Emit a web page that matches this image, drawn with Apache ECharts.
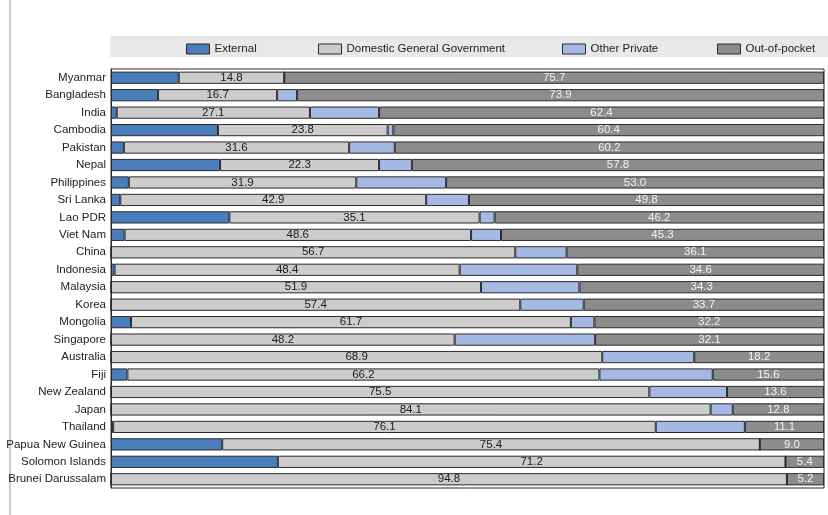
<!DOCTYPE html>
<html><head><meta charset="utf-8">
<script src="https://cdn.jsdelivr.net/npm/echarts@6/dist/echarts.min.js"></script>
<style>html,body{margin:0;padding:0;background:#fff}#c{width:828px;height:515px}</style>
</head><body><div id="c"></div>
<script>
const categories = ["Myanmar","Bangladesh","India","Cambodia","Pakistan","Nepal","Philippines","Sri Lanka","Lao PDR","Viet Nam","China","Indonesia","Malaysia","Korea","Mongolia","Singapore","Australia","Fiji","New Zealand","Japan","Thailand","Papua New Guinea","Solomon Islands","Brunei Darussalam"];
const seriesNames = ['External','Domestic General Government','Other Private','Out-of-pocket'];
const external = [9.5,6.6,0.8,15.0,1.8,15.3,2.5,1.3,16.6,1.9,0,0.5,0,0,2.8,0,0,2.3,0,0,0.3,15.6,23.4,0];
const domestic = [14.8,16.7,27.1,23.8,31.6,22.3,31.9,42.9,35.1,48.6,56.7,48.4,51.9,57.4,61.7,48.2,68.9,66.2,75.5,84.1,76.1,75.4,71.2,94.8];
const otherPrivate = [0,2.8,9.7,0.8,6.4,4.6,12.6,6.0,2.1,4.2,7.2,16.5,13.8,8.9,3.3,19.7,12.9,15.9,10.9,3.1,12.5,0,0,0];
const outOfPocket = [75.7,73.9,62.4,60.4,60.2,57.8,53.0,49.8,46.2,45.3,36.1,34.6,34.3,33.7,32.2,32.1,18.2,15.6,13.6,12.8,11.1,9.0,5.4,5.2];

const FONT = '"Liberation Sans", Arial, sans-serif';
const chart = echarts.init(document.getElementById('c'));
const border = {borderColor:'#2a2a2a', borderWidth:1};
function mk(name, data, color, label){
  return {name, type:'bar', stack:'t', data, barWidth:'70%',
    itemStyle:Object.assign({color}, border),
    label: label ? Object.assign({show:true, position:'inside', fontFamily:FONT, fontSize:11.5,
      formatter:p=>p.value.toFixed(1)}, label) : {show:false},
    emphasis:{disabled:true}, animation:false};
}
const legendLefts = [181, 313, 557, 712];
chart.setOption({
  animation:false,
  textStyle:{fontFamily:FONT},
  graphic:[
    {type:'rect', shape:{x:110,y:36,width:718,height:21}, style:{fill:'#e8e8e8'}, z:-1},
    {type:'line', shape:{x1:10,y1:0,x2:10,y2:515}, style:{stroke:'#999',lineWidth:1}}
  ],
  legend: seriesNames.map((n,i)=>({left:legendLefts[i], top:38, itemWidth:23, itemHeight:10, icon:'rect',
    textStyle:{fontFamily:FONT, fontSize:11.5, color:'#222'},
    itemStyle:{borderColor:'#2a2a2a', borderWidth:1},
    data:[n]})),
  grid:{left:111, right:4, top:69, bottom:27, show:true, borderColor:'#2a2a2a', borderWidth:1, backgroundColor:'#fff'},
  xAxis:{type:'value', min:0, max:100, show:false},
  yAxis:{type:'category', data:categories, inverse:true,
    axisLine:{lineStyle:{color:'#2a2a2a'}},
    axisTick:{inside:true, length:4, lineStyle:{color:'#2a2a2a'}},
    axisLabel:{fontFamily:FONT, fontSize:11.5, color:'#222', margin:5}},
  series:[
    mk(seriesNames[0], external, '#4a7ebb'),
    mk(seriesNames[1], domestic, '#cccccc', {color:'#1a1a1a'}),
    mk(seriesNames[2], otherPrivate, '#a6b9e4'),
    mk(seriesNames[3], outOfPocket, '#8c8c8c', {color:'#f2f2f2'})
  ]
});
</script></body></html>
